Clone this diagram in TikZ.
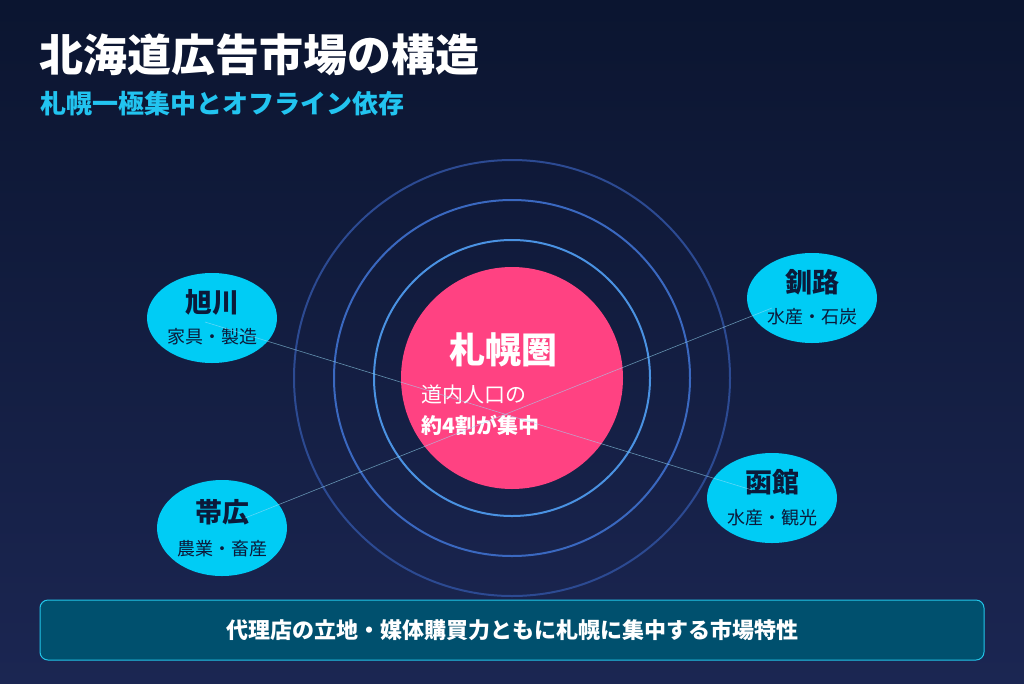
\documentclass[tikz,border=0pt]{standalone}
\usepackage{fontspec}
\setmainfont{Noto Sans CJK JP}
\usetikzlibrary{shapes.geometric}
\definecolor{bgtop}{HTML}{0B1530}
\definecolor{bgbot}{HTML}{1B2652}
\definecolor{cyanA}{HTML}{00CCF5}
\definecolor{subc}{HTML}{22C4F0}
\definecolor{navyT}{HTML}{0B1A3A}
\definecolor{pinkC}{HTML}{FF4282}
\definecolor{ringA}{HTML}{4A92E2}
\definecolor{ringB}{HTML}{3A68C0}
\definecolor{ringC}{HTML}{2C4A92}
\definecolor{boxF}{HTML}{00506E}
\definecolor{boxD}{HTML}{22C6EA}
\tikzset{
  city/.style={ellipse,fill=cyanA,minimum width=130pt,minimum height=90pt,inner sep=0pt},
  cname/.style={text=navyT,font=\bfseries\fontsize{27}{30}\selectfont},
  csub/.style={text=navyT,font=\fontsize{18}{20}\selectfont},
  link/.style={draw=cyan!40!white,line width=0.6pt,opacity=0.6},
  ring/.style={line width=2pt}
}
\begin{document}
\begin{tikzpicture}[x=1pt,y=-1pt]
\useasboundingbox (0,0) rectangle (1024,683);
\shade[top color=bgtop,bottom color=bgbot] (0,0) rectangle (1024,683);
\node[anchor=west,text=white,font=\bfseries\fontsize{44}{48}\selectfont] (title) at (36,55) {北海道広告市場の構造};
\node[anchor=west,text=subc,font=\bfseries\fontsize{26}{30}\selectfont] (sub) at (37,104) {札幌一極集中とオフライン依存};
\coordinate (c) at (512,378);
\draw[ring,draw=ringC] (c) circle (218);
\draw[ring,draw=ringB] (c) circle (178);
\draw[ring,draw=ringA] (c) circle (138);
\node[circle,fill=pinkC,minimum size=222pt,inner sep=0pt] (sap) at (c) {};
\node[text=white,font=\bfseries\fontsize{36}{40}\selectfont] (sapn) at (503,350) {札幌圏};
\node[anchor=west,text=white,font=\fontsize{21}{24}\selectfont] (s1) at (418,395) {道内人口の};
\node[anchor=west,text=white,font=\bfseries\fontsize{21}{24}\selectfont] (s2) at (418,425) {約4割が集中};
\node[city] (asa) at (212,318) {};
\node[cname] at (212,302) {旭川};
\node[csub] at (212,337) {家具・製造};
\node[city] (kus) at (812,298) {};
\node[cname] at (812,282) {釧路};
\node[csub] at (812,317) {水産・石炭};
\node[city] (hak) at (772,498) {};
\node[cname] at (772,482) {函館};
\node[csub] at (772,518) {水産・観光};
\node[city,minimum height=96pt] (obi) at (222,528) {};
\node[cname] at (222,512) {帯広};
\node[csub] at (222,549) {農業・畜産};
\coordinate (a1) at (205,322);
\coordinate (h1) at (752,490);
\coordinate (o1) at (245,518);
\coordinate (k1) at (772,308);
\draw[link] (a1) -- (h1);
\draw[link] (o1) -- (k1);
\draw[fill=boxF,draw=boxD,line width=1pt,rounded corners=8pt] (40,600) rectangle (984,660);
\node[text=white,font=\bfseries\fontsize{22}{25}\selectfont] (foot) at (512,630) {代理店の立地・媒体購買力ともに札幌に集中する市場特性};
\end{tikzpicture}
\end{document}
